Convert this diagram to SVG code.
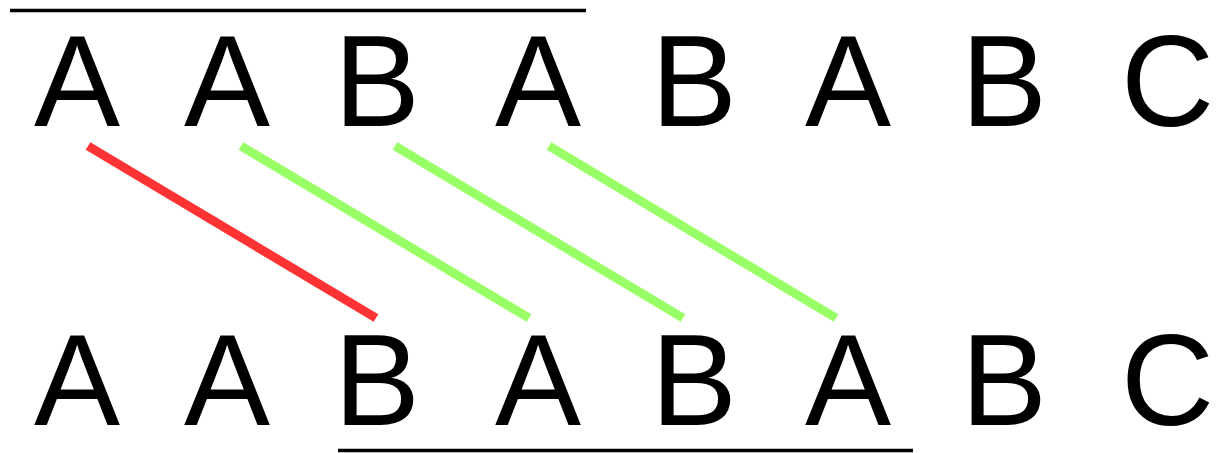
<svg xmlns="http://www.w3.org/2000/svg" width="1221" height="453" viewBox="0 0 1221 453">
<style>
.t{font-family:"Liberation Sans",Arial,sans-serif;font-size:129px;fill:#000}
.bar{stroke:#000;stroke-width:3.5}
.red{stroke:#ff3333;stroke-width:9;stroke-linecap:butt}
.green{stroke:#99ff66;stroke-width:9;stroke-linecap:butt}
</style>
<rect width="1221" height="453" fill="#fff"/>
<g id="top-row">
<g id="t0"><text class="t" x="34" y="126">A</text></g>
<g id="t1"><text class="t" x="184" y="126">A</text></g>
<g id="t2"><text class="t" x="334" y="126">B</text></g>
<g id="t3"><text class="t" x="495" y="126">A</text></g>
<g id="t4"><text class="t" x="651" y="126">B</text></g>
<g id="t5"><text class="t" x="805" y="126">A</text></g>
<g id="t6"><text class="t" x="961" y="126">B</text></g>
<g id="t7"><text class="t" x="1121" y="126">C</text></g>
</g>
<g id="bottom-row">
<g id="b0"><text class="t" x="34" y="425">A</text></g>
<g id="b1"><text class="t" x="184" y="425">A</text></g>
<g id="b2"><text class="t" x="334" y="425">B</text></g>
<g id="b3"><text class="t" x="495" y="425">A</text></g>
<g id="b4"><text class="t" x="651" y="425">B</text></g>
<g id="b5"><text class="t" x="805" y="425">A</text></g>
<g id="b6"><text class="t" x="961" y="425">B</text></g>
<g id="b7"><text class="t" x="1121" y="425">C</text></g>
</g>
<g id="bars">
<line class="bar" x1="10" y1="10.5" x2="586" y2="10.5"/>
<line class="bar" x1="338" y1="450.5" x2="913" y2="450.5"/>
</g>
<g id="connectors">
<line class="red" x1="88" y1="146" x2="376" y2="318"/>
<line class="green" x1="241" y1="146" x2="529" y2="318"/>
<line class="green" x1="395" y1="146" x2="683" y2="318"/>
<line class="green" x1="549" y1="146" x2="836" y2="318"/>
</g>
</svg>
